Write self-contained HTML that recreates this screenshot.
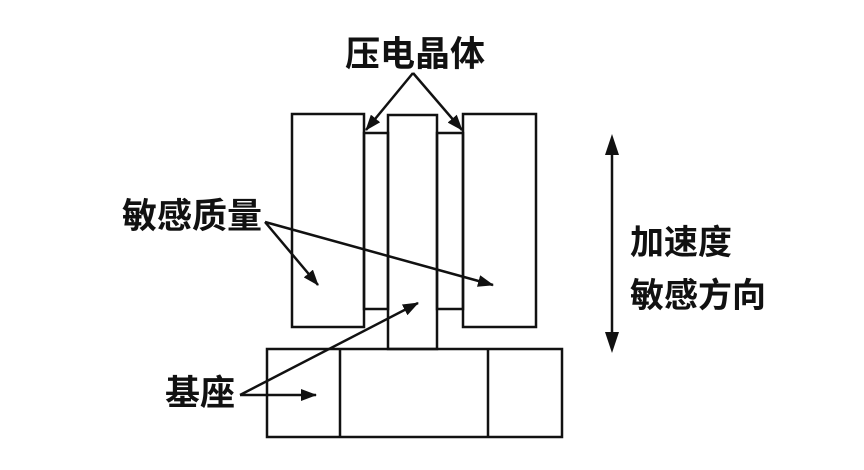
<!DOCTYPE html>
<html><head><meta charset="utf-8"><style>
html,body{margin:0;padding:0;background:#fff;}
svg{display:block}
text{font-family:"Liberation Sans","Noto Sans CJK SC",sans-serif;font-weight:bold;fill:#111}
</style></head><body>
<svg width="864" height="470" viewBox="0 0 864 470" xmlns="http://www.w3.org/2000/svg">
<defs>
<marker id="a" markerWidth="10" markerHeight="8" refX="9" refY="4" orient="auto" markerUnits="userSpaceOnUse" viewBox="0 0 10 8">
<path d="M0,0 L10,4 L0,8 Z" fill="#111"/></marker>
<marker id="b" markerWidth="16" markerHeight="12" refX="15" refY="6" orient="auto" markerUnits="userSpaceOnUse" viewBox="0 0 16 12">
<path d="M0,0 L16,6 L0,12 Z" fill="#111"/></marker>
</defs>
<g fill="none" stroke="#111" stroke-width="2.5">
<rect x="292" y="114" width="72" height="213"/>
<rect x="463" y="114" width="73" height="213"/>
<rect x="388" y="115" width="49" height="234"/>
<rect x="364" y="133" width="24" height="176"/>
<rect x="437" y="133" width="26" height="176"/>
<rect x="267" y="349" width="295" height="88"/>
<line x1="340" y1="349" x2="340" y2="437"/>
<line x1="488" y1="349" x2="488" y2="437"/>
</g>
<g stroke="#111" stroke-width="2.5" fill="none">
<line x1="413" y1="73" x2="366" y2="130" marker-end="url(#b)"/>
<line x1="413" y1="73" x2="462" y2="130" marker-end="url(#b)"/>
<line x1="265" y1="222" x2="318" y2="285" marker-end="url(#b)"/>
<line x1="265" y1="222" x2="493" y2="285" marker-end="url(#b)"/>
<line x1="240" y1="395" x2="316" y2="395" marker-end="url(#b)"/>
<line x1="240" y1="395" x2="418" y2="303" marker-end="url(#b)"/>
<line x1="612" y1="150" x2="612" y2="338"/>
</g>
<path d="M612,134 L605,155 L619,155 Z M612,353 L605,332 L619,332 Z" fill="#111"/>
<text x="345" y="66" font-size="35">压电晶体</text>
<text x="122" y="228" font-size="35">敏感质量</text>
<text x="165" y="405" font-size="35">基座</text>
<text x="630" y="254" font-size="34">加速度</text>
<text x="630" y="307" font-size="34">敏感方向</text>
</svg>
</body></html>
